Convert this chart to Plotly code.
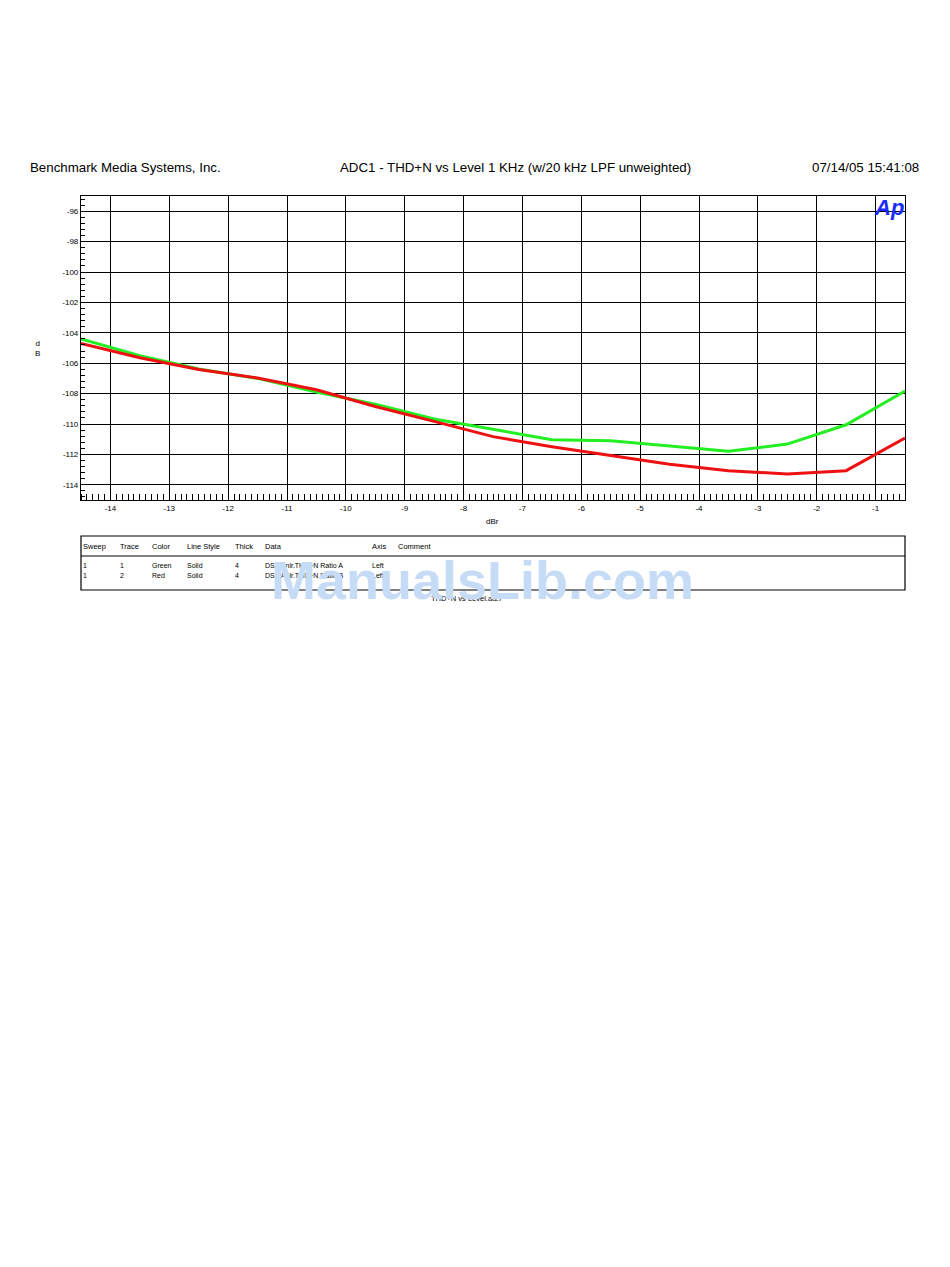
import plotly.graph_objects as go

# ---- data ----
level_dbr = [-14.5, -13.5, -12.5, -11.5, -10.5, -9.5, -8.5, -7.5, -6.5, -5.5, -4.5, -3.5, -2.5, -1.5, -0.5]
thdn_green = [-104.4, -105.5, -106.38, -107.0, -107.9, -108.7, -109.67, -110.33, -111.03, -111.1, -111.45, -111.8, -111.32, -110.05, -107.83]
thdn_red = [-104.7, -105.64, -106.42, -106.97, -107.75, -108.85, -109.83, -110.83, -111.49, -112.08, -112.65, -113.07, -113.29, -113.07, -110.92]

x_tick_vals = [-14, -13, -12, -11, -10, -9, -8, -7, -6, -5, -4, -3, -2, -1]
x_tick_text = ["-14", "-13", "-12", "-11", "-10", "-9", "-8", "-7", "-6", "-5", "-4", "-3", "-2", "-1"]
y_tick_vals = [-96, -98, -100, -102, -104, -106, -108, -110, -112, -114]
y_tick_text = ["-96", "-98", "-100", "-102", "-104", "-106", "-108", "-110", "-112", "-114"]

table_header = ["Sweep", "Trace", "Color", "Line Style", "Thick", "Data", "Axis", "Comment"]
table_rows = [
    ["1", "1", "Green", "Solid", "4", "DSP Anlr.THD+N Ratio A", "Left", ""],
    ["1", "2", "Red", "Solid", "4", "DSP Anlr.THD+N Ratio B", "Left", ""],
]

W, H = 950, 1267
OFF = 8  # page body margin
L, R, T, B = 81 - OFF, 905 - OFF, 196 - OFF, 500 - OFF

def px(x):
    return (x - OFF - L) / (R - L)

def py(y):
    return (B - (y - OFF)) / (B - T)

fig = go.Figure()
fig.add_trace(go.Scatter(x=level_dbr, y=thdn_green, mode="lines",
                         line=dict(color="#22ee22", width=3), showlegend=False))
fig.add_trace(go.Scatter(x=level_dbr, y=thdn_red, mode="lines",
                         line=dict(color="#ee1111", width=3), showlegend=False))

font = "Liberation Sans, Arial, sans-serif"

fig.update_layout(
    width=W, height=H, autosize=False,
    margin=dict(l=L, r=W - R, t=T, b=H - B, pad=0),
    paper_bgcolor="white", plot_bgcolor="white",
    font=dict(family=font, color="black", size=8),
    xaxis=dict(range=[-14.5, -0.5], tickmode="array", tickvals=x_tick_vals, ticktext=x_tick_text,
               showgrid=True, gridcolor="black", gridwidth=1, zeroline=False,
               showline=True, linecolor="black", linewidth=1.2, mirror=True,
               ticks="", ticklen=0, tickfont=dict(size=8, family=font),
               minor=dict(dtick=0.1, tick0=-14, ticks="inside", ticklen=6,
                          tickcolor="black", tickwidth=1, showgrid=False)),
    yaxis=dict(range=[-115, -95], tickmode="array", tickvals=y_tick_vals, ticktext=y_tick_text,
               showgrid=True, gridcolor="black", gridwidth=1, zeroline=False,
               showline=True, linecolor="black", linewidth=1.2, mirror=True,
               ticks="", ticklen=0, tickfont=dict(size=8, family=font),
               minor=dict(dtick=0.4, tick0=-96, ticks="inside", ticklen=4,
                          tickcolor="black", tickwidth=1, showgrid=False)),
)

ann = []
def text(x, y, s, size=8, xanchor="left", color="black"):
    ann.append(dict(x=px(x), y=py(y), xref="paper", yref="paper", text=s,
                    showarrow=False, xanchor=xanchor, yanchor="middle", borderpad=0,
                    font=dict(size=size, color=color, family=font)))

# header
text(29, 167, "Benchmark Media Systems, Inc.", size=13.3)
text(515, 167, "ADC1 - THD+N vs Level 1 KHz (w/20 kHz LPF unweighted)", size=13.3, xanchor="center")
text(920, 167, "07/14/05 15:41:08", size=13.3, xanchor="right")

# axis titles
text(37, 348, "d<br>B", size=8, xanchor="center")
text(492, 521, "dBr", size=8, xanchor="center")

# Ap logo
text(889, 207, "<b><i>Ap</i></b>", size=22, xanchor="center", color="#1a2cff")

# legend table
shapes = [
    dict(type="rect", xref="paper", yref="paper", x0=px(81), x1=px(905), y0=py(536), y1=py(590),
         line=dict(color="black", width=1.2), fillcolor="rgba(0,0,0,0)"),
    dict(type="line", xref="paper", yref="paper", x0=px(81), x1=px(905), y0=py(556), y1=py(556),
         line=dict(color="black", width=1)),
]
col_x = [82, 119, 151, 186, 234, 264, 371, 397]
for cx, h in zip(col_x, table_header):
    text(cx, 546, h, size=7.5)
for ry, row in zip([565, 575], table_rows):
    for cx, v in zip(col_x, row):
        if v:
            text(cx, ry, v, size=7)
text(467, 598, "THD+N vs Level.at27", size=7.5, xanchor="center")

# watermark
text(482, 580, "<b>ManualsLib.com</b>", size=54, xanchor="center", color="#c6dbf6")

fig.update_layout(annotations=ann, shapes=shapes)
fig.write_html("out.html")
